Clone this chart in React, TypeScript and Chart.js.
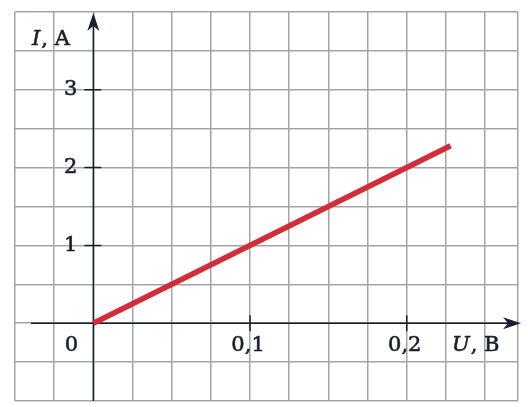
import React, { useEffect, useRef } from 'react'
import { Chart, registerables } from 'chart.js'

Chart.register(...registerables)

// measured line U (V) -> I (A)
const voltage = [0, 0.228]
const current = [0, 2.28]

// grid cells: 0.025 V by 0.5 A
const xGridLines = [-0.05, -0.025, 0, 0.025, 0.05, 0.075, 0.1, 0.125, 0.15, 0.175, 0.2, 0.225, 0.25, 0.271]
const yGridLines = [-1, -0.5, 0, 0.5, 1, 1.5, 2, 2.5, 3, 3.5, 4]

const xTickValues = [0.1, 0.2]
const xTickLabels = ['0,1', '0,2']
const yTickValues = [1, 2, 3]
const yTickLabels = ['1', '2', '3']

const INK = '#17202c'
const FONT = '"DejaVu Serif", serif'

const arrow = (ctx: CanvasRenderingContext2D, x: number, y: number, dir: 'up' | 'right') => {
    ctx.save()
    ctx.translate(x, y)
    if (dir === 'right') ctx.rotate(Math.PI / 2)
    ctx.beginPath()
    ctx.moveTo(0, 0)
    ctx.lineTo(6, 18)
    ctx.lineTo(0, 13)
    ctx.lineTo(-6, 18)
    ctx.closePath()
    ctx.fillStyle = INK
    ctx.fill()
    ctx.restore()
}

// text drawn a touch heavier, like the printed figure
const ink = (ctx: CanvasRenderingContext2D, text: string, x: number, y: number) => {
    ctx.fillText(text, x, y)
    ctx.strokeText(text, x, y)
}

const axesPlugin = {
    id: 'axes',
    beforeDatasetsDraw(chart: any) {
        const { ctx, chartArea, scales } = chart
        const x0 = scales.x.getPixelForValue(0)
        const y0 = scales.y.getPixelForValue(0)
        ctx.save()
        ctx.strokeStyle = INK
        ctx.lineWidth = 1.5
        ctx.beginPath()
        ctx.moveTo(x0, chartArea.bottom)
        ctx.lineTo(x0, chartArea.top + 8)
        ctx.moveTo(chartArea.left + 16, y0)
        ctx.lineTo(chartArea.right - 6, y0)
        // ticks
        yTickValues.forEach(v => {
            const py = scales.y.getPixelForValue(v)
            ctx.moveTo(x0 - 9, py)
            ctx.lineTo(x0 + 8, py)
        })
        xTickValues.forEach(v => {
            const px = scales.x.getPixelForValue(v)
            ctx.moveTo(px, y0 - 8)
            ctx.lineTo(px, y0 + 8)
        })
        ctx.stroke()
        arrow(ctx, x0, chartArea.top + 1, 'up')
        arrow(ctx, chartArea.right + 3, y0, 'right')
        ctx.restore()
    },
    afterDatasetsDraw(chart: any) {
        const { ctx, scales } = chart
        const x0 = scales.x.getPixelForValue(0)
        const y0 = scales.y.getPixelForValue(0)
        ctx.save()
        ctx.fillStyle = INK
        ctx.strokeStyle = INK
        ctx.lineWidth = 0.6
        ctx.font = `21px ${FONT}`
        ctx.textBaseline = 'middle'
        ctx.textAlign = 'right'
        yTickValues.forEach((v, i) => {
            ink(ctx, yTickLabels[i], x0 - 16, scales.y.getPixelForValue(v))
        })
        ctx.textAlign = 'center'
        ink(ctx, '0', x0 - 22, y0 + 22)
        xTickValues.forEach((v, i) => {
            ink(ctx, xTickLabels[i], scales.x.getPixelForValue(v) - 2, y0 + 22)
        })
        // axis titles: italic symbol + upright unit
        const title = (sym: string, unit: string, x: number, y: number) => {
            ctx.textAlign = 'left'
            ctx.font = `italic 21px ${FONT}`
            ink(ctx, sym, x, y)
            const w = ctx.measureText(sym).width
            ctx.font = `21px ${FONT}`
            ink(ctx, unit, x + w + 1, y)
        }
        title('U', ', B', 452, y0 + 22)
        title('I', ', A', 32, 40)
        ctx.restore()
    },
}

export default function App() {
    const canvasReference = useRef<HTMLCanvasElement>(null)

    useEffect(() => {
        const myChart = new Chart(canvasReference.current!, {
            type: 'line',
            data: {
                datasets: [{
                    data: voltage.map((u, i) => ({ x: u, y: current[i] })),
                    borderColor: '#d22d38',
                    borderWidth: 5.5,
                    borderCapStyle: 'butt',
                    pointRadius: 0,
                    tension: 0,
                }],
            },
            options: {
                animation: false,
                responsive: true,
                maintainAspectRatio: false,
                layout: { padding: { left: 15, top: 12, right: 10, bottom: 6 } },
                plugins: {
                    legend: { display: false },
                    tooltip: { enabled: false },
                },
                scales: {
                    x: {
                        type: 'linear',
                        min: -0.05,
                        max: 0.271,
                        afterBuildTicks: (scale: any) => {
                            scale.ticks = xGridLines.map(value => ({ value }))
                        },
                        ticks: { display: false },
                        border: { display: false },
                        grid: { color: '#a4a4a4', lineWidth: 1.5, drawTicks: false },
                    },
                    y: {
                        type: 'linear',
                        min: -1,
                        max: 4,
                        afterBuildTicks: (scale: any) => {
                            scale.ticks = yGridLines.map(value => ({ value }))
                        },
                        ticks: { display: false },
                        border: { display: false },
                        grid: { color: '#a4a4a4', lineWidth: 1.5, drawTicks: false },
                    },
                },
            },
            plugins: [axesPlugin],
        })

        return () => {
            myChart.destroy()
        }
    })

    return <div style={{ position: 'fixed', left: 0, top: 0, width: 528, height: 407, background: '#fff' }}>
        <canvas ref={canvasReference}></canvas>
    </div>
}
